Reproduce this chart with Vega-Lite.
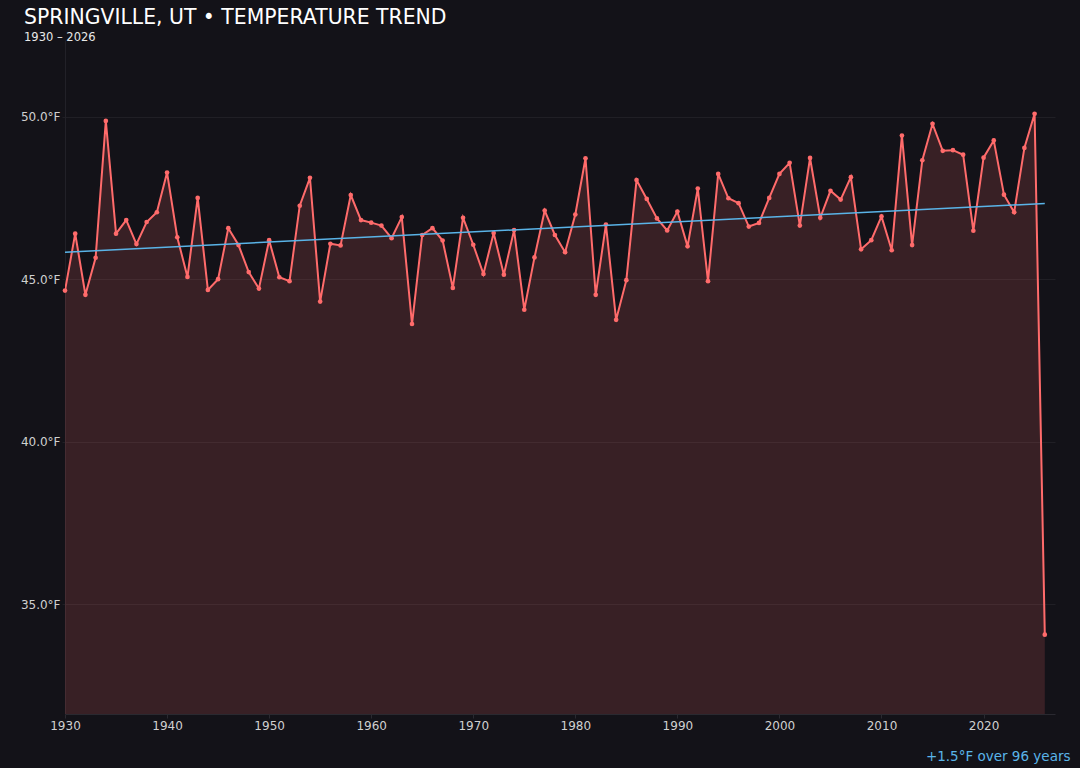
{
  "$schema": "https://vega.github.io/schema/vega-lite/v6.json",
  "width": 990,
  "height": 674,
  "autosize": {"type": "none"},
  "padding": {"left": 65, "top": 40, "right": 25, "bottom": 54},
  "background": "#131218",
  "config": {"view": {"stroke": null}, "font": "DejaVu Sans"},
  "title": {
    "text": "SPRINGVILLE, UT • TEMPERATURE TREND",
    "subtitle": "1930 – 2026",
    "anchor": "start",
    "frame": "group",
    "dx": -41,
    "offset": -3,
    "font": "DejaVu Sans",
    "fontSize": 20.4,
    "fontWeight": "normal",
    "color": "#ffffff",
    "subtitleFont": "DejaVu Sans",
    "subtitleFontSize": 11.5,
    "subtitleColor": "#e8e8e8",
    "subtitlePadding": 3
  },
  "datasets": {
    "temps": [
      {"year": 1930, "temp": 44.65}, {"year": 1931, "temp": 46.40}, {"year": 1932, "temp": 44.52}, {"year": 1933, "temp": 45.66},
      {"year": 1934, "temp": 49.87}, {"year": 1935, "temp": 46.40}, {"year": 1936, "temp": 46.82}, {"year": 1937, "temp": 46.08},
      {"year": 1938, "temp": 46.76}, {"year": 1939, "temp": 47.06}, {"year": 1940, "temp": 48.28}, {"year": 1941, "temp": 46.29},
      {"year": 1942, "temp": 45.07}, {"year": 1943, "temp": 47.50}, {"year": 1944, "temp": 44.67}, {"year": 1945, "temp": 45.00},
      {"year": 1946, "temp": 46.57}, {"year": 1947, "temp": 46.05}, {"year": 1948, "temp": 45.22}, {"year": 1949, "temp": 44.71},
      {"year": 1950, "temp": 46.20}, {"year": 1951, "temp": 45.06}, {"year": 1952, "temp": 44.94}, {"year": 1953, "temp": 47.26},
      {"year": 1954, "temp": 48.12}, {"year": 1955, "temp": 44.31}, {"year": 1956, "temp": 46.09}, {"year": 1957, "temp": 46.04},
      {"year": 1958, "temp": 47.59}, {"year": 1959, "temp": 46.82}, {"year": 1960, "temp": 46.74}, {"year": 1961, "temp": 46.65},
      {"year": 1962, "temp": 46.26}, {"year": 1963, "temp": 46.91}, {"year": 1964, "temp": 43.62}, {"year": 1965, "temp": 46.36},
      {"year": 1966, "temp": 46.57}, {"year": 1967, "temp": 46.19}, {"year": 1968, "temp": 44.73}, {"year": 1969, "temp": 46.89},
      {"year": 1970, "temp": 46.06}, {"year": 1971, "temp": 45.16}, {"year": 1972, "temp": 46.42}, {"year": 1973, "temp": 45.14},
      {"year": 1974, "temp": 46.51}, {"year": 1975, "temp": 44.06}, {"year": 1976, "temp": 45.67}, {"year": 1977, "temp": 47.11},
      {"year": 1978, "temp": 46.36}, {"year": 1979, "temp": 45.83}, {"year": 1980, "temp": 46.99}, {"year": 1981, "temp": 48.72},
      {"year": 1982, "temp": 44.52}, {"year": 1983, "temp": 46.68}, {"year": 1984, "temp": 43.75}, {"year": 1985, "temp": 44.97},
      {"year": 1986, "temp": 48.05}, {"year": 1987, "temp": 47.47}, {"year": 1988, "temp": 46.87}, {"year": 1989, "temp": 46.50},
      {"year": 1990, "temp": 47.08}, {"year": 1991, "temp": 46.01}, {"year": 1992, "temp": 47.79}, {"year": 1993, "temp": 44.94},
      {"year": 1994, "temp": 48.24}, {"year": 1995, "temp": 47.49}, {"year": 1996, "temp": 47.34}, {"year": 1997, "temp": 46.62},
      {"year": 1998, "temp": 46.73}, {"year": 1999, "temp": 47.50}, {"year": 2000, "temp": 48.24}, {"year": 2001, "temp": 48.58},
      {"year": 2002, "temp": 46.65}, {"year": 2003, "temp": 48.73}, {"year": 2004, "temp": 46.89}, {"year": 2005, "temp": 47.72},
      {"year": 2006, "temp": 47.45}, {"year": 2007, "temp": 48.14}, {"year": 2008, "temp": 45.92}, {"year": 2009, "temp": 46.20},
      {"year": 2010, "temp": 46.93}, {"year": 2011, "temp": 45.89}, {"year": 2012, "temp": 49.42}, {"year": 2013, "temp": 46.05},
      {"year": 2014, "temp": 48.66}, {"year": 2015, "temp": 49.78}, {"year": 2016, "temp": 48.95}, {"year": 2017, "temp": 48.97},
      {"year": 2018, "temp": 48.83}, {"year": 2019, "temp": 46.49}, {"year": 2020, "temp": 48.74}, {"year": 2021, "temp": 49.27},
      {"year": 2022, "temp": 47.60}, {"year": 2023, "temp": 47.06}, {"year": 2024, "temp": 49.04}, {"year": 2025, "temp": 50.09},
      {"year": 2026, "temp": 34.06}
    ],
    "trend": [
      {"year": 1930, "temp": 45.83},
      {"year": 2026, "temp": 47.33}
    ]
  },
  "encoding": {
    "x": {
      "field": "year",
      "type": "quantitative",
      "scale": {"domain": [1930, 2027], "nice": false, "zero": false},
      "axis": {
        "values": [1930, 1940, 1950, 1960, 1970, 1980, 1990, 2000, 2010, 2020],
        "format": "d",
        "grid": false,
        "labelFlush": false,
        "labelColor": "#d0d0d0",
        "labelFontSize": 12,
        "labelPadding": 2,
        "domainColor": "#2a2930",
        "tickColor": "#2a2930",
        "tickSize": 4,
        "title": "+1.5°F over 96 years",
        "titleColor": "#5ab4e8",
        "titleFontSize": 13.5,
        "titleFontWeight": "normal",
        "titleX": 1005,
        "titleY": 42,
        "titleAlign": "right",
        "titleBaseline": "middle"
      }
    },
    "y": {
      "field": "temp",
      "type": "quantitative",
      "scale": {"domain": [31.62, 52.36], "nice": false, "zero": false},
      "axis": {
        "values": [35, 40, 45, 50],
        "labelExpr": "format(datum.value, '.1f') + '°F'",
        "labelColor": "#d0d0d0",
        "labelFontSize": 12,
        "labelPadding": 2,
        "grid": true,
        "gridColor": "#201f25",
        "domainColor": "#222128",
        "tickColor": "#201f25",
        "tickSize": 3,
        "title": null
      }
    }
  },
  "layer": [
    {
      "data": {"name": "temps"},
      "mark": {"type": "area", "color": "#ff6b6b", "opacity": 0.16, "clip": true}
    },
    {
      "data": {"name": "temps"},
      "mark": {"type": "line", "color": "#ff6b6b", "strokeWidth": 2, "clip": true}
    },
    {
      "data": {"name": "temps"},
      "mark": {"type": "point", "filled": true, "color": "#ff6b6b", "opacity": 1, "size": 22}
    },
    {
      "data": {"name": "trend"},
      "mark": {"type": "line", "color": "#5ab4e8", "strokeWidth": 1.5}
    }
  ]
}
